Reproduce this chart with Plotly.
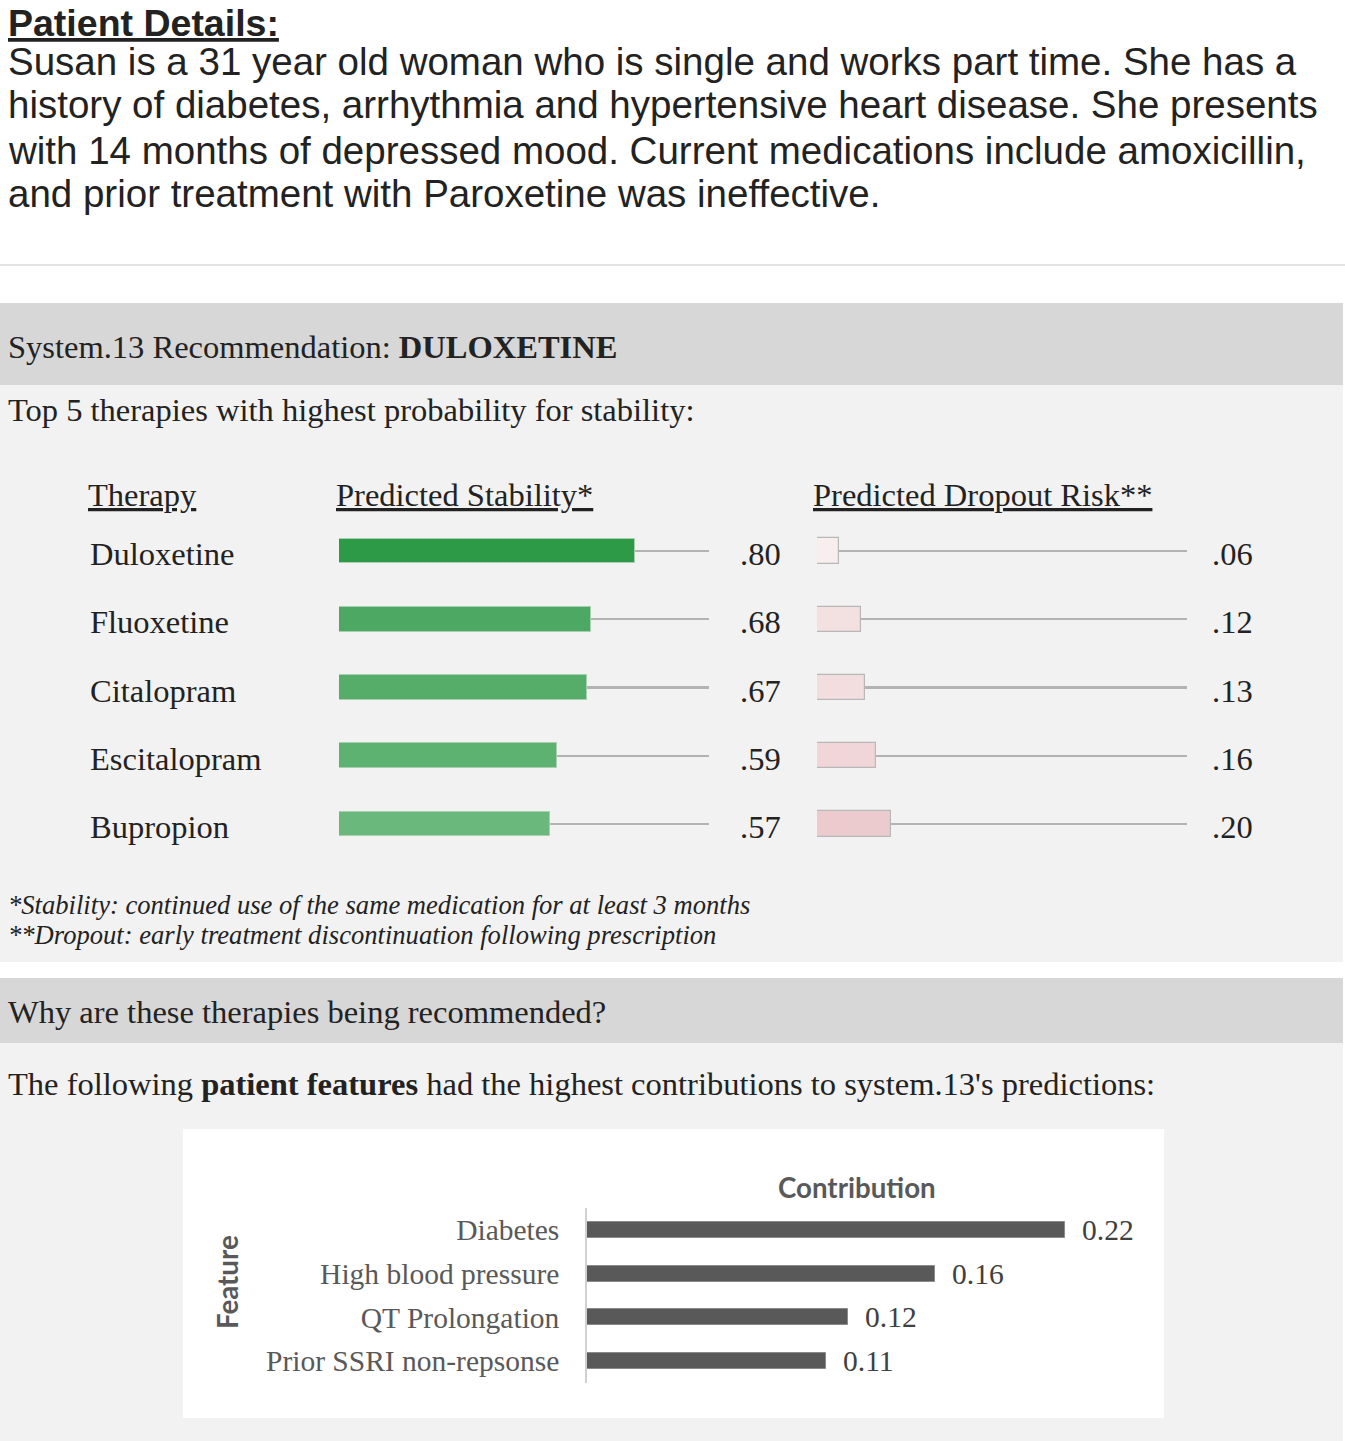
import plotly.graph_objects as go

W, H = 1345, 1441

# ---------------- data ----------------
therapies = ["Duloxetine", "Fluoxetine", "Citalopram", "Escitalopram", "Bupropion"]
stability = [0.80, 0.68, 0.67, 0.59, 0.57]
stability_labels = [".80", ".68", ".67", ".59", ".57"]
dropout = [0.06, 0.12, 0.13, 0.16, 0.20]
dropout_labels = [".06", ".12", ".13", ".16", ".20"]
track_max = [1.0, 1.0, 1.0, 1.0, 1.0]

stab_colors = ["#2d9a48", "#4ca862", "#55ad69", "#5db271", "#6bb87c"]
drop_colors = ["#f8eeee", "#f3e0e1", "#f2dedf", "#f0d6d8", "#eccbce"]

features = ["Diabetes", "High blood pressure", "QT Prolongation", "Prior SSRI non-repsonse"]
contributions = [0.22, 0.16, 0.12, 0.11]
contribution_labels = ["0.22", "0.16", "0.12", "0.11"]

patient_lines = [
    "Susan is a 31 year old woman who is single and works part time. She has a",
    "history of diabetes, arrhythmia and hypertensive heart disease. She presents",
    "with 14 months of depressed mood. Current medications include amoxicillin,",
    "and prior treatment with Paroxetine was ineffective.",
]

SANS = "Liberation Sans, Arial, sans-serif"
SERIF = "Liberation Serif, Times New Roman, serif"
CAL = "Lato, Open Sans, sans-serif"


def px(x):
    return x / W


def py(y):
    return 1 - y / H


fig = go.Figure()

# stability track + bars
fig.add_trace(go.Bar(x=track_max, y=therapies, orientation="h", width=0.03,
                     marker=dict(color="#b3b3b3", line=dict(width=0)),
                     xaxis="x", yaxis="y", hoverinfo="skip", showlegend=False))
fig.add_trace(go.Bar(x=stability, y=therapies, orientation="h", width=0.36,
                     marker=dict(color=stab_colors, line=dict(color="#a8cfb0", width=1)),
                     xaxis="x", yaxis="y", showlegend=False))
# dropout track + bars
fig.add_trace(go.Bar(x=track_max, y=therapies, orientation="h", width=0.03,
                     marker=dict(color="#b3b3b3", line=dict(width=0)),
                     xaxis="x2", yaxis="y2", hoverinfo="skip", showlegend=False))
fig.add_trace(go.Bar(x=dropout, y=therapies, orientation="h", width=0.37,
                     marker=dict(color=drop_colors, line=dict(color="#b8b8b8", width=1.2)),
                     xaxis="x2", yaxis="y2", showlegend=False))
# contributions
fig.add_trace(go.Bar(x=contributions, y=features, orientation="h", width=0.37,
                     marker=dict(color="#595959", line=dict(color="#8a8a8a", width=1)),
                     xaxis="x3", yaxis="y3", showlegend=False))

rows_dom = [py(858), py(517)]
feat_dom = [py(1383), py(1208)]

fig.update_layout(
    width=W, height=H,
    margin=dict(l=0, r=0, t=0, b=0),
    paper_bgcolor="white", plot_bgcolor="rgba(0,0,0,0)",
    barmode="overlay", bargap=0,
    xaxis=dict(domain=[px(339), px(709)], range=[0, 1], visible=False, fixedrange=True),
    yaxis=dict(domain=rows_dom, type="category", categoryorder="array", categoryarray=therapies,
               range=[4.5, -0.5], visible=False),
    xaxis2=dict(domain=[px(817), px(1187)], range=[0, 1], visible=False),
    yaxis2=dict(domain=rows_dom, type="category", categoryorder="array", categoryarray=therapies,
                range=[4.5, -0.5], visible=False),
    xaxis3=dict(domain=[px(587), px(1130)], range=[0, 0.25], visible=False, anchor="y3"),
    yaxis3=dict(domain=feat_dom, type="category", categoryorder="array", categoryarray=features,
                range=[3.5, -0.5], anchor="x3", showline=True, linecolor="#d0d0d0", linewidth=1.5,
                showgrid=False, ticks="", ticklabelstandoff=20,
                tickfont=dict(family=SERIF, size=29.5, color="#595959")),
)

shapes = []
# separator line
shapes.append(dict(type="line", xref="paper", yref="paper", x0=0, x1=1, y0=py(265), y1=py(265),
                   line=dict(color="#e3e3e3", width=2), layer="below"))
# recommendation panel
shapes.append(dict(type="rect", xref="paper", yref="paper", x0=0, x1=px(1343), y0=py(385), y1=py(303),
                   fillcolor="#d7d7d7", line=dict(width=0), layer="below"))
shapes.append(dict(type="rect", xref="paper", yref="paper", x0=0, x1=px(1343), y0=py(962), y1=py(385),
                   fillcolor="#f2f2f2", line=dict(width=0), layer="below"))
# why panel
shapes.append(dict(type="rect", xref="paper", yref="paper", x0=0, x1=px(1343), y0=py(1043), y1=py(978),
                   fillcolor="#d7d7d7", line=dict(width=0), layer="below"))
shapes.append(dict(type="rect", xref="paper", yref="paper", x0=0, x1=px(1343), y0=0, y1=py(1043),
                   fillcolor="#f2f2f2", line=dict(width=0), layer="below"))
# white chart box
shapes.append(dict(type="rect", xref="paper", yref="paper", x0=px(183), x1=px(1164), y0=py(1418), y1=py(1129),
                   fillcolor="white", line=dict(width=0), layer="below"))
fig.update_layout(shapes=shapes)

ann = []


def txt(x, y, text, size, family, color="#222222", xanchor="left", **kw):
    d = dict(xref="paper", yref="paper", x=px(x), y=py(y), text=text, showarrow=False,
             xanchor=xanchor, yanchor="middle", font=dict(family=family, size=size, color=color))
    d.update(kw)
    ann.append(d)


txt(6, 23, "<b><u>Patient Details:</u></b>", 37.5, SANS)
for i, line in enumerate(patient_lines):
    txt(6, [61, 105, 150, 194][i], line, 38.5, SANS)

txt(6, 347, "System.13 Recommendation: <b>DULOXETINE</b>", 32.5, SERIF)
txt(6, 410, "Top 5 therapies with highest probability for stability:", 32.5, SERIF)
txt(86, 495, "<u>Therapy</u>", 32.5, SERIF)
txt(334, 495, "<u>Predicted Stability*</u>", 32.5, SERIF)
txt(811, 495, "<u>Predicted Dropout Risk**</u>", 32.5, SERIF)

for t, sl, dl in zip(therapies, stability_labels, dropout_labels):
    ann.append(dict(xref="paper", yref="y", x=px(88), y=t, text=t, showarrow=False, xanchor="left",
                    yanchor="middle", yshift=-3, font=dict(family=SERIF, size=32.5, color="#222222")))
    ann.append(dict(xref="paper", yref="y", x=px(760), y=t, text=sl, showarrow=False, xanchor="center",
                    yanchor="middle", yshift=-3, font=dict(family=SERIF, size=32.5, color="#222222")))
    ann.append(dict(xref="paper", yref="y2", x=px(1232), y=t, text=dl, showarrow=False, xanchor="center",
                    yanchor="middle", yshift=-3, font=dict(family=SERIF, size=32.5, color="#222222")))

txt(6, 905, "<i>*Stability: continued use of the same medication for at least 3 months</i>", 26.6, SERIF)
txt(6, 935, "<i>**Dropout: early treatment discontinuation following prescription</i>", 26.6, SERIF)

txt(6, 1012, "Why are these therapies being recommended?", 32.5, SERIF)
txt(6, 1084, "The following <b>patient features</b> had the highest contributions to system.13's predictions:",
    32.5, SERIF)

txt(857, 1187, "<b>Contribution</b>", 27.7, CAL, color="#595959", xanchor="center")
ann.append(dict(xref="paper", yref="paper", x=px(227), y=py(1282), text="<b>Feature</b>", showarrow=False,
                textangle=-90, xanchor="center", yanchor="middle",
                font=dict(family=CAL, size=27.7, color="#595959")))

for f, v, lab in zip(features, contributions, contribution_labels):
    ann.append(dict(xref="x3", yref="y3", x=v, y=f, text=lab, showarrow=False, xanchor="left",
                    yanchor="middle", xshift=15, font=dict(family=SERIF, size=29.5, color="#404040")))

fig.update_layout(annotations=ann)

fig.write_html("out.html", config={"displayModeBar": False},
               post_script="document.body.style.margin='0px';")
